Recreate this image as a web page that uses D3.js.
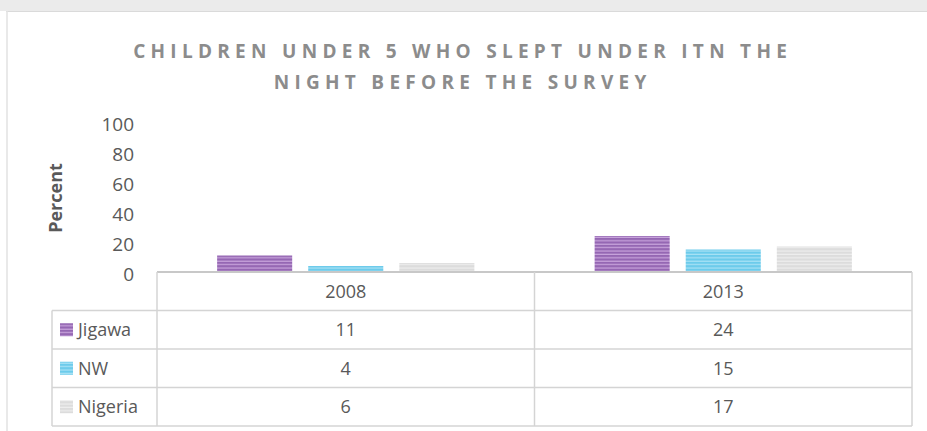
<!DOCTYPE html>
<html><head><meta charset="utf-8">
<script src="https://cdn.jsdelivr.net/npm/d3@7"></script>
<style>body{margin:0;background:#fff;}svg{display:block;}text{font-family:"Open Sans",sans-serif;}</style>
</head><body>
<svg id="c" width="927" height="431"></svg>
<script>
const years = ["2008", "2013"];
const seriesNames = ["Jigawa", "NW", "Nigeria"];
const jigawa = [11, 24];
const nw = [4, 15];
const nigeria = [6, 17];
const yTicks = [0, 20, 40, 60, 80, 100];
const titleLines = ["CHILDREN UNDER 5 WHO SLEPT UNDER ITN THE", "NIGHT BEFORE THE SURVEY"];
const yLabel = "Percent";

const seriesValues = [jigawa, nw, nigeria];
const patternColors = [
  {base: "#9567b3", line: "#c9a5dc"},
  {base: "#6ccbeb", line: "#a9e2f5"},
  {base: "#dcdcdc", line: "#eeeeee"}
];

const svg = d3.select("#c");
svg.append("rect").attr("x",0).attr("y",0).attr("width",927).attr("height",11).attr("fill","#ebebeb");
svg.append("line").attr("x1",6).attr("x2",927).attr("y1",11.5).attr("y2",11.5).attr("stroke","#dadada").attr("stroke-width",1);
svg.append("line").attr("x1",7).attr("x2",7).attr("y1",11).attr("y2",431).attr("stroke","#e2e2e2").attr("stroke-width",1.5);

const defs = svg.append("defs");
patternColors.forEach((c,i)=>{
  const p = defs.append("pattern").attr("id","pat"+i).attr("patternUnits","userSpaceOnUse")
    .attr("width",8).attr("height",3.4);
  p.append("rect").attr("width",8).attr("height",3.4).attr("fill",c.base);
  p.append("rect").attr("y",2.2).attr("width",8).attr("height",1.2).attr("fill",c.line);
});

// title
const title = svg.append("g");
const tl = titleLines.map((t,i)=> title.append("text").attr("x",460).attr("y",58+i*31)
  .attr("text-anchor","middle").attr("font-size",19).attr("font-weight","bold")
  .attr("fill","#8c8c8c").text(t));
(function(){
  const n = titleLines[0].length;
  const w0 = tl[0].node().getComputedTextLength();
  const ls = Math.max(0, (659 - w0) / n);
  tl.forEach(t=>t.attr("letter-spacing", ls+"px").attr("x", 460 + ls/2));
})();

const left = 157, right = 912;
const x0 = d3.scaleBand().domain(years).range([left, right]);
const x1 = d3.scaleBand().domain(seriesNames).range([0, x0.bandwidth()]).paddingInner(0.176).paddingOuter(0.66);
const y = d3.scaleLinear().domain([0,100]).range([272,122]);

const yAxis = svg.append("g").attr("transform","translate(134,0)")
  .call(d3.axisLeft(y).tickValues(yTicks).tickSize(0).tickPadding(0));
yAxis.select(".domain").remove();
yAxis.selectAll("text").attr("font-size",19).attr("fill","#595959").attr("font-family","'Open Sans',sans-serif").attr("dy","0.45em");

svg.append("text").attr("transform","translate(62,198) rotate(-90)").attr("text-anchor","middle")
  .attr("font-size",18).attr("font-weight","bold").attr("fill","#595959").text(yLabel);

years.forEach((yr, yi)=>{
  seriesNames.forEach((s, si)=>{
    const v = seriesValues[si][yi];
    svg.append("rect").attr("x", x0(yr)+x1(s)).attr("width", x1.bandwidth())
      .attr("y", y(v)).attr("height", y(0)-y(v)).attr("fill","url(#pat"+si+")");
  });
});

const rowTop = 272, rowH = 38.5, legLeft = 52;
const g = svg.append("g");
const lc = "#d4d4d4";
g.append("line").attr("x1",left).attr("x2",right).attr("y1",rowTop).attr("y2",rowTop).attr("stroke","#c8c8c8").attr("stroke-width",2);
for (let r=1;r<=4;r++){
  g.append("line").attr("x1",legLeft).attr("x2",right).attr("y1",rowTop+r*rowH).attr("y2",rowTop+r*rowH).attr("stroke",lc).attr("stroke-width",1.5);
}
g.append("line").attr("x1",legLeft).attr("x2",legLeft).attr("y1",rowTop+rowH).attr("y2",rowTop+4*rowH).attr("stroke",lc).attr("stroke-width",1.5);
[left, x0("2013"), right].forEach(xv=>{
  g.append("line").attr("x1",xv).attr("x2",xv).attr("y1",rowTop).attr("y2",rowTop+4*rowH).attr("stroke",lc).attr("stroke-width",1.5);
});
years.forEach(yr=>{
  g.append("text").attr("x", x0(yr)+x0.bandwidth()/2).attr("y", rowTop+rowH/2).attr("dy","0.35em")
    .attr("text-anchor","middle").attr("font-size",18).attr("fill","#595959").text(yr);
});
seriesNames.forEach((s, si)=>{
  const cy = rowTop + (si+1)*rowH + rowH/2;
  g.append("rect").attr("x",60).attr("y",cy-6.5).attr("width",13).attr("height",13).attr("fill","url(#pat"+si+")");
  g.append("text").attr("x",78).attr("y",cy).attr("dy","0.35em").attr("font-size",18).attr("fill","#595959").text(s);
  years.forEach((yr, yi)=>{
    g.append("text").attr("x", x0(yr)+x0.bandwidth()/2).attr("y", cy).attr("dy","0.35em")
      .attr("text-anchor","middle").attr("font-size",18).attr("fill","#595959").text(seriesValues[si][yi]);
  });
});
</script>
</body></html>
